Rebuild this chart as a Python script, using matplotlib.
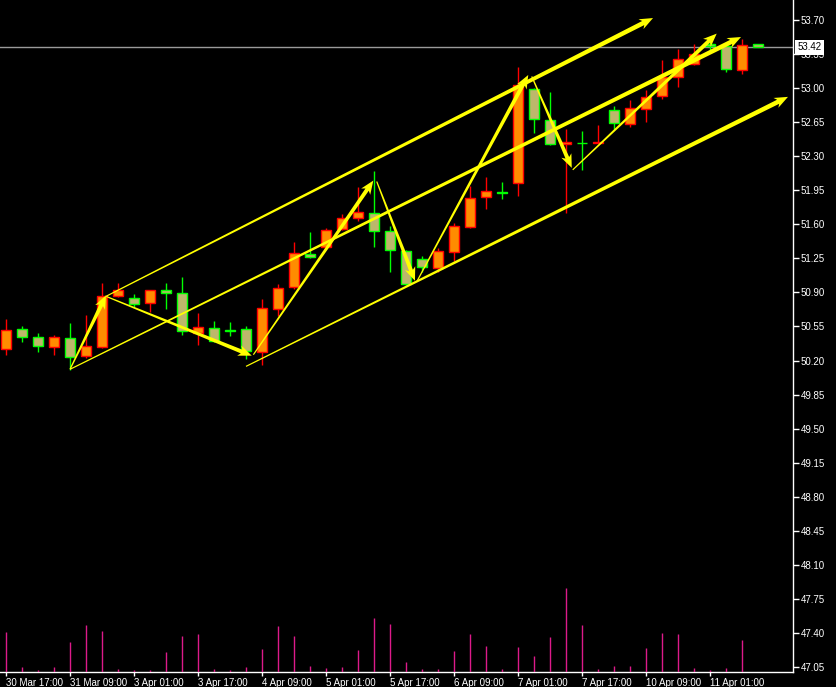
import numpy as np
import matplotlib
matplotlib.use("Agg")
import matplotlib.pyplot as plt
from matplotlib.patches import Polygon

# 4-hour OHLC bars
opens = [50.32, 50.52, 50.44, 50.34, 50.43, 50.25, 50.34, 50.86, 50.84, 50.79,
         50.92, 50.89, 50.48, 50.53, 50.51, 50.52, 50.29, 50.73, 50.96, 51.30,
         51.37, 51.55, 51.66, 51.72, 51.53, 51.33, 51.24, 51.15, 51.32, 51.57,
         51.88, 51.93, 52.02, 52.99, 52.67, 52.43, 52.44, 52.44, 52.77, 52.63,
         52.79, 52.92, 53.11, 53.25, 53.45, 53.43, 53.19, 53.45]
highs = [50.63, 50.56, 50.48, 50.46, 50.59, 50.67, 51.00, 51.00, 50.88, 50.93,
         51.00, 51.06, 50.69, 50.61, 50.60, 50.56, 50.83, 50.99, 51.42, 51.52,
         51.56, 51.71, 51.98, 52.15, 51.58, 51.34, 51.27, 51.36, 51.61, 51.99,
         52.09, 52.04, 53.22, 53.00, 52.96, 52.58, 52.56, 52.62, 52.82, 52.88,
         52.98, 53.29, 53.40, 53.45, 53.47, 53.44, 53.50, 53.45]
lows = [50.26, 50.39, 50.29, 50.26, 50.10, 50.23, 50.33, 50.85, 50.75, 50.70,
        50.73, 50.46, 50.36, 50.39, 50.45, 50.22, 50.15, 50.66, 50.94, 51.25,
        51.36, 51.54, 51.63, 51.37, 51.11, 50.98, 51.11, 51.11, 51.22, 51.56,
        51.76, 51.86, 51.89, 52.54, 52.42, 51.72, 52.16, 52.44, 52.58, 52.60,
        52.65, 52.89, 53.01, 53.24, 53.39, 53.17, 53.15, 53.42]
closes = [50.51, 50.44, 50.35, 50.44, 50.24, 50.35, 50.86, 50.93, 50.78, 50.93,
          50.89, 50.50, 50.54, 50.40, 50.505, 50.30, 50.74, 50.95, 51.31, 51.26,
          51.54, 51.66, 51.73, 51.53, 51.34, 50.99, 51.16, 51.33, 51.58, 51.87,
          51.94, 51.925, 53.03, 52.68, 52.43, 52.45, 52.435, 52.45, 52.64, 52.80,
          52.91, 53.11, 53.30, 53.35, 53.43, 53.20, 53.44, 53.42]
volumes = [992, 118, 42, 118, 742, 1168, 1018, 68, 42, 42,
           492, 892, 942, 68, 42, 118, 568, 1142, 892, 142,
           92, 118, 542, 1342, 1192, 242, 68, 68, 518, 942,
           642, 68, 618, 392, 868, 2092, 1168, 68, 142, 142,
           592, 968, 942, 92, 42, 92, 792, 0]

bid_price = 53.42

time_tick_bars = [0, 4, 8, 12, 16, 20, 24, 28, 32, 36, 40, 44]
time_tick_labels = ["30 Mar 17:00", "31 Mar 09:00", "3 Apr 01:00", "3 Apr 17:00",
                    "4 Apr 09:00", "5 Apr 01:00", "5 Apr 17:00", "6 Apr 09:00",
                    "7 Apr 01:00", "7 Apr 17:00", "10 Apr 09:00", "11 Apr 01:00"]
price_ticks = [53.70, 53.35, 53.00, 52.65, 52.30, 51.95, 51.60, 51.25, 50.90,
               50.55, 50.20, 49.85, 49.50, 49.15, 48.80, 48.45, 48.10, 47.75,
               47.40, 47.05]

# swing arrows and channel arrows: (bar0, price0, bar1, price1)
swing_arrows = [
    (4.00, 50.11, 6.25, 50.87),
    (6.25, 50.86, 15.36, 50.25),
    (15.46, 50.26, 22.96, 52.05),
    (23.17, 52.04, 25.56, 51.02),
    (25.67, 51.01, 32.64, 53.135),
    (32.86, 53.12, 35.36, 52.18),
    (35.42, 52.16, 44.42, 53.56),
]
channel_arrows = [
    (6.25, 50.86, 40.44, 53.72),
    (4.00, 50.11, 45.94, 53.525),
    (15.00, 50.14, 48.875, 52.91),
]

UP_FILL, UP_EDGE = "#FF8C00", "#FF0000"
DN_FILL, DN_EDGE = "#BDB76B", "#00FF00"
ARROW = "#FFFF00"
VOL = "#DD1A8A"
FONT = "Liberation Sans"
FS = 7

W, H = 837, 687
fig = plt.figure(figsize=(W / 100, H / 100), dpi=100, facecolor="black")
ax = fig.add_axes([0, 15 / H, 793 / W, 672 / H])
ax.set_facecolor("black")
ax.set_xlim(-0.375, 49.1875)
ax.set_ylim(46.999, 53.9055)

x = np.arange(len(opens))
o = np.array(opens)
c = np.array(closes)
up = c >= o
edge = np.where(up, UP_EDGE, DN_EDGE)
fill = np.where(up, UP_FILL, DN_FILL)

# bid line
ax.axhline(bid_price, color="#9a9a9a", lw=1, zorder=1)

# wicks
ax.vlines(x, lows, highs, colors=edge, lw=1, zorder=2)
# bodies
bottoms = np.minimum(o, c)
heights = np.maximum(np.abs(c - o), 0.004)
ax.bar(x, heights, bottom=bottoms, width=0.62, color=fill, edgecolor=edge,
       linewidth=1, zorder=3)

# tapered arrows drawn in pixel space
to_px = ax.transData
to_data = ax.transData.inverted()


def tapered_arrow(x0, p0, x1, p1, w0=1.2, w1=4.0, head_len=11.0, head_w=5.5):
    a = to_px.transform((x0, p0))
    b = to_px.transform((x1, p1))
    d = b - a
    length = np.hypot(*d)
    u = d / length
    n = np.array([-u[1], u[0]])
    base = b - u * head_len
    notch = base - u * 2.5
    pts = [a + n * w0 / 2, base + n * w1 / 2, notch + n * head_w, b,
           notch - n * head_w, base - n * w1 / 2, a - n * w0 / 2]
    pts = to_data.transform(np.array(pts))
    ax.add_patch(Polygon(pts, closed=True, facecolor=ARROW, edgecolor="none",
                         zorder=5))


for seg in channel_arrows:
    tapered_arrow(*seg, w1=4.6)
for seg in swing_arrows:
    tapered_arrow(*seg)

# axes styling
for side in ("left", "top"):
    ax.spines[side].set_visible(False)
for side in ("right", "bottom"):
    ax.spines[side].set_color("white")
    ax.spines[side].set_linewidth(1)

ax.yaxis.tick_right()
ax.set_yticks(price_ticks)
ax.set_yticklabels([f"{t:.2f}" for t in price_ticks], fontfamily=FONT)
ax.tick_params(axis="y", colors="white", direction="out", length=4, width=1,
               labelsize=FS, pad=1.5)
ax.set_xticks(time_tick_bars)
ax.set_xticklabels(time_tick_labels, fontfamily=FONT, ha="left")
ax.tick_params(axis="x", colors="white", direction="out", length=3, width=1,
               labelsize=FS, pad=1.5)

ax.annotate(f"{bid_price:.2f}", xy=(1.0, bid_price),
            xycoords=("axes fraction", "data"), xytext=(3.5, 0),
            textcoords="offset points", ha="left", va="center",
            fontsize=FS, fontfamily=FONT, color="black",
            bbox=dict(boxstyle="square,pad=0.25", fc="white", ec="none"),
            zorder=10, annotation_clip=False)

# volume panel overlaid at the bottom of the price window
axv = fig.add_axes([0, 15 / H, 793 / W, 672 / H], sharex=ax)
axv.patch.set_visible(False)
axv.axis("off")
axv.set_ylim(0, max(volumes) / 0.1245)
axv.vlines(x, 0, volumes, colors=VOL, lw=1)

fig.savefig("out.png", dpi=100, facecolor="black")
